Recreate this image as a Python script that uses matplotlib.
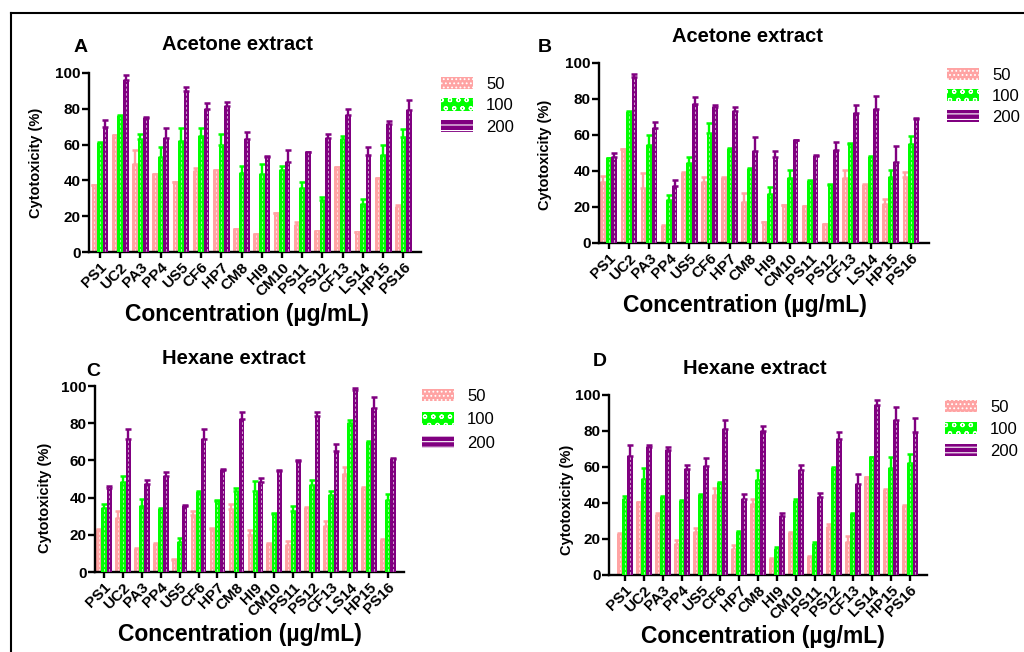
import numpy as np
import matplotlib
matplotlib.use("Agg")
import matplotlib.pyplot as plt
from matplotlib.lines import Line2D
from matplotlib.patches import Patch

plt.rcParams["font.family"] = ["Liberation Sans", "DejaVu Sans"]
plt.rcParams["hatch.linewidth"] = 0.8

# isolates on x axis
isolates = ["PS1", "UC2", "PA3", "PP4", "US5", "CF6", "HP7", "CM8",
            "HI9", "CM10", "PS11", "PS12", "CF13", "LS14", "HP15", "PS16"]
doses = ["50", "100", "200"]

# Panel A - acetone extract
a_50 = [37.5, 65.5, 49, 43.7, 39, 45, 46, 13, 10, 22, 15, 12, 47.4, 11.4, 41.6, 25.4]
a_50_err = [0, 0, 8, 0, 0, 2, 0, 0, 0, 0, 2, 0, 0, 0, 0, 0.6]
a_100 = [61, 76, 63, 53, 62, 65, 60, 44, 43.5, 46, 35.6, 29, 63, 27, 54, 64]
a_100_err = [0.5, 0.5, 3, 5.6, 7, 4, 6, 4, 5.5, 2, 3.4, 2, 2, 2.5, 5.5, 4.7]
a_200 = [70, 96, 75, 63.5, 90, 80, 81.3, 63, 53, 50, 56, 63.5, 76.7, 54, 71.5, 79.5]
a_200_err = [4, 3, 0.5, 5.5, 2, 3.5, 2.3, 4, 0.5, 7, 0, 2.2, 3.3, 4.4, 1.5, 5.5]

# Panel B - acetone extract
b_50 = [34, 52, 30.5, 9.3, 39, 34, 36, 23, 11.5, 21.3, 20.4, 10.6, 36, 32.4, 21.8, 36.5]
b_50_err = [3, 0.5, 8.5, 0.5, 0.5, 2.7, 0.5, 4.8, 0, 0, 0, 0, 4.4, 0.5, 2.6, 2.9]
b_100 = [47, 73, 54.6, 24, 44.4, 61, 52.4, 41.3, 27, 36, 34.3, 32.4, 55, 47.6, 36.5, 55]
b_100_err = [0.5, 0.5, 5.4, 2.5, 3.2, 5.5, 0.5, 0.5, 4, 4.4, 0.5, 0.5, 0.5, 0.5, 3.9, 4.6]
b_200 = [48, 92, 64, 31.5, 77, 75.4, 73.5, 51, 48, 57, 48.5, 51.7, 72, 74.4, 45, 69]
b_200_err = [2, 2, 3, 3.5, 4, 1.1, 1.9, 8, 3, 0.5, 0.5, 4.3, 4.5, 7.1, 8.7, 0.5]

# Panel C - hexane extract
c_50 = [22.4, 29, 12.2, 15.3, 6.3, 30.5, 23.3, 34, 19.7, 15.3, 14.4, 34.5, 25, 52.6, 45.4, 17.4]
c_50_err = [0.5, 3.7, 0.5, 0.5, 0.5, 2.2, 0.5, 2.4, 2.7, 0.5, 2.1, 0.5, 2.6, 3.9, 0.5, 0.5]
c_100 = [34.5, 48.5, 35.4, 34, 16, 43, 38.2, 43.4, 43.6, 31.4, 32.7, 46.7, 41.3, 80, 69.7, 38.6]
c_100_err = [1.9, 3, 4.1, 0.5, 2.5, 0.5, 0.5, 2, 5.2, 0.5, 2.8, 3, 2.1, 1.7, 0.5, 3.6]
c_200 = [45.4, 71.3, 47.2, 51.5, 35.4, 71.3, 55, 82.2, 48.5, 54.4, 59.8, 84, 65, 97.8, 88, 61]
c_200_err = [0.9, 5.4, 2.5, 2.2, 0.5, 5.4, 0.5, 3.6, 1.8, 0.5, 0.5, 2, 3.6, 1.2, 6.3, 0.5]

# Panel D - hexane extract
d_50 = [22.6, 40.3, 33.2, 17, 24, 44.3, 14.7, 39.3, 9.1, 23.4, 10, 26.7, 18.4, 54.2, 47.5, 38.4]
d_50_err = [0.5, 0.5, 1.5, 2.3, 2.3, 4.3, 1.8, 2.7, 0.5, 0.5, 0.5, 1.9, 3.1, 0.5, 0.5, 0.5]
d_100 = [42.5, 53.6, 43.4, 41.2, 44.3, 51.2, 24, 52.7, 14.7, 41.2, 17.4, 59.7, 33.8, 65.3, 59.5, 62.5]
d_100_err = [1.3, 5.6, 0.5, 0.5, 0.5, 0.5, 0.5, 5.9, 0.9, 1.3, 1.1, 0.5, 0.5, 0.5, 6.2, 4.7]
d_200 = [66, 71, 69.4, 58.8, 60.5, 81, 42.5, 80, 32.7, 58.6, 43.4, 75.3, 50.8, 94.4, 86, 79.2]
d_200_err = [6, 1.2, 1.8, 2.2, 4.5, 5, 2.5, 3, 1.8, 2.6, 1.9, 3.9, 5.2, 2.8, 7.5, 7.8]

colors = ["#FFA3A3", "#00FF00", "#800080"]
hatches = ["....", "oo", "---"]

W, H = 1024, 652


def fx(px):
    return px / W


def fy(py):
    return 1 - py / H


# axes box in pixels (left, top, right, bottom) plus text positions per panel
panels = [
    dict(box=(89, 73, 421, 252), xlim=(-0.54, 15.87), data=(a_50, a_100, a_200),
         err=(a_50_err, a_100_err, a_200_err), letter="A", letter_xy=(81, 47),
         title="Acetone extract", title_xy=(237, 45), ylab=(-0.139, 0.5),
         xlab_xy=(247, 314), leg_xy=(441, 77), leg_sp=0.38),
    dict(box=(599, 63, 929, 243), xlim=(-0.48, 15.9), data=(b_50, b_100, b_200),
         err=(b_50_err, b_100_err, b_200_err), letter="B", letter_xy=(545, 47),
         title="Acetone extract", title_xy=(747, 37), ylab=(-0.142, 0.49),
         xlab_xy=(745, 305), leg_xy=(947, 68), leg_sp=0.35),
    dict(box=(95, 386, 404, 572), xlim=(-0.475, 15.86), data=(c_50, c_100, c_200),
         err=(c_50_err, c_100_err, c_200_err), letter="C", letter_xy=(93, 371),
         title="Hexane extract", title_xy=(234, 359), ylab=(-0.139, 0.40),
         xlab_xy=(240, 634), leg_xy=(422, 389), leg_sp=0.50),
    dict(box=(609, 395, 927, 575), xlim=(-0.83, 15.9), data=(d_50, d_100, d_200),
         err=(d_50_err, d_100_err, d_200_err), letter="D", letter_xy=(600, 362),
         title="Hexane extract", title_xy=(755, 368), ylab=(-0.11, 0.415),
         xlab_xy=(763, 636), leg_xy=(945, 400), leg_sp=0.42),
]

fig = plt.figure(figsize=(W / 100, H / 100), dpi=100)

x = np.arange(len(isolates))
width = 0.275

for p in panels:
    l, t, r, b = p["box"]
    ax = fig.add_axes([fx(l), fy(b), (r - l) / W, (b - t) / H])
    for i, (vals, errs) in enumerate(zip(p["data"], p["err"])):
        pos = x + (i - 1) * width
        bars = ax.bar(pos, vals, width, color=colors[i], edgecolor="none", zorder=2 + i)
        ax.errorbar(pos, vals, yerr=[np.zeros(len(errs)), errs], fmt="none",
                    ecolor=colors[i], elinewidth=1.7, capsize=2, capthick=1.8, zorder=2 + i)
        # dashed white centre line seen on every bar
        for bar in bars:
            cx = bar.get_x() + bar.get_width() / 2
            ax.plot([cx, cx], [0.5, bar.get_height() - 0.5], color="white", lw=0.6,
                    ls=(0, (3, 2.5)), alpha=0.75, zorder=2 + i)

    ax.set_xlim(*p["xlim"])
    ax.set_ylim(0, 100)
    ax.set_yticks(range(0, 101, 20))
    ax.set_xticks(x)
    ax.set_xticklabels(isolates, rotation=45, ha="right", rotation_mode="anchor",
                       fontsize=11, fontweight="bold")
    for lab in ax.get_yticklabels():
        lab.set_fontweight("bold")
        lab.set_fontsize(11)
    ax.spines["top"].set_visible(False)
    ax.spines["right"].set_visible(False)
    ax.spines["left"].set_linewidth(1.7)
    ax.spines["bottom"].set_linewidth(1.7)
    ax.tick_params(axis="y", length=5, width=1.7, pad=1)
    ax.tick_params(axis="x", length=4, width=1.7, pad=2)
    ax.set_ylabel("Cytotoxicity (%)", fontsize=10.5, fontweight="bold")
    ax.yaxis.set_label_coords(*p["ylab"])

    fig.text(fx(p["title_xy"][0]), fy(p["title_xy"][1]), p["title"], ha="center",
             va="center", fontsize=14.5, fontweight="bold")
    fig.text(fx(p["letter_xy"][0]), fy(p["letter_xy"][1]), p["letter"], ha="center",
             va="center", fontsize=14, fontweight="bold")
    fig.text(fx(p["xlab_xy"][0]), fy(p["xlab_xy"][1]), "Concentration (\u00b5g/mL)",
             ha="center", va="center", fontsize=16.5, fontweight="bold")

    handles = [Patch(facecolor=c, edgecolor="white", hatch=h, linewidth=0)
               for c, h in zip(colors, hatches)]
    fig.legend(handles, doses, loc="upper left",
               bbox_to_anchor=(fx(p["leg_xy"][0]), fy(p["leg_xy"][1])),
               frameon=False, fontsize=12, handlelength=1.9, handleheight=0.75,
               labelspacing=p["leg_sp"], handletextpad=0.8, borderaxespad=0, borderpad=0)

# outer frame (top and left edges visible)
fig.add_artist(Line2D([fx(11), 1], [fy(13), fy(13)], color="black", lw=1.5))
fig.add_artist(Line2D([fx(11), fx(11)], [fy(13), 0], color="black", lw=1.5))

fig.savefig("out.png", dpi=100)
